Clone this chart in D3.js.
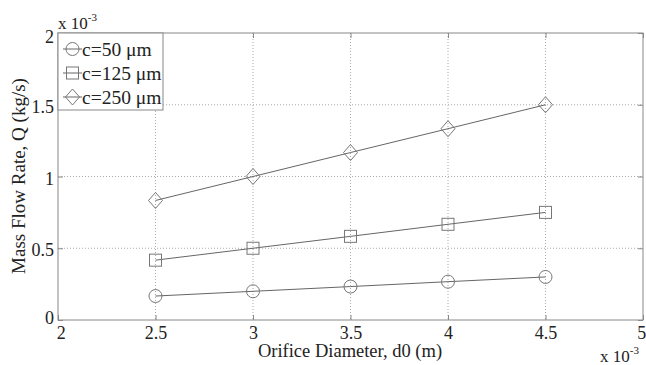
<!DOCTYPE html>
<html>
<head>
<meta charset="utf-8">
<script src="https://cdn.jsdelivr.net/npm/d3@7"></script>
<style>
  body { margin: 0; background: #fff; }
  svg text { font-family: "Liberation Serif", "Times New Roman", serif; fill: #222; }
</style>
</head>
<body>
<div id="chart"></div>
<script>
// orifice diameter (x 1e-3 m)
const diameters = [2.5, 3, 3.5, 4, 4.5];
const seriesNames = ['c=50 \u03bcm', 'c=125 \u03bcm', 'c=250 \u03bcm'];
const seriesShapes = ['circle', 'square', 'diamond'];
// mass flow rate (x 1e-3 kg/s)
const q50 = [0.167, 0.2, 0.233, 0.267, 0.3];
const q125 = [0.417, 0.5, 0.583, 0.667, 0.75];
const q250 = [0.833, 1.0, 1.167, 1.333, 1.5];
const xTicks = [2, 2.5, 3, 3.5, 4, 4.5, 5];
const yTicks = [0, 0.5, 1, 1.5, 2];

const width = 646, height = 365;
const margin = { top: 33, right: 3, bottom: 45, left: 58 };
const w = width - margin.left - margin.right;
const h = height - margin.top - margin.bottom;

const svg = d3.select('#chart').append('svg')
  .attr('width', width)
  .attr('height', height);

const x = d3.scaleLinear().domain([2, 5]).range([0, w]);
const y = d3.scaleLinear().domain([0, 2]).range([h, 0]);

const g = svg.append('g')
  .attr('transform', 'translate(' + margin.left + ',' + margin.top + ')');

// grid
g.append('g').selectAll('line').data(xTicks.slice(1, -1)).enter().append('line')
  .attr('x1', d => x(d)).attr('x2', d => x(d))
  .attr('y1', 0).attr('y2', h)
  .attr('stroke', '#aaa').attr('stroke-width', 1).attr('stroke-dasharray', '1,2');
g.append('g').selectAll('line').data(yTicks.slice(1, -1)).enter().append('line')
  .attr('y1', d => y(d)).attr('y2', d => y(d))
  .attr('x1', 0).attr('x2', w)
  .attr('stroke', '#aaa').attr('stroke-width', 1).attr('stroke-dasharray', '1,2');

// axes (ticks point inwards)
const xAxis = g.append('g')
  .attr('transform', 'translate(0,' + h + ')')
  .call(d3.axisBottom(x).tickValues(xTicks).tickSize(-5).tickSizeOuter(0).tickPadding(6).tickFormat(d3.format('')));
const yAxis = g.append('g')
  .call(d3.axisLeft(y).tickValues(yTicks).tickSize(-5).tickSizeOuter(0).tickPadding(4).tickFormat(d3.format('')));
g.append('g').attr('transform', 'translate(' + w + ',0)')
  .call(d3.axisRight(y).tickValues(yTicks).tickSize(-5).tickSizeOuter(0).tickFormat(''));
g.append('g')
  .call(d3.axisTop(x).tickValues(xTicks).tickSize(-5).tickSizeOuter(0).tickFormat(''));

g.selectAll('.domain').remove();
g.selectAll('.tick line').attr('stroke', '#888');
g.selectAll('.tick text')
  .attr('font-family', '"Liberation Serif", serif')
  .style('font-size', '18px').attr('fill', '#222');
xAxis.selectAll('.tick text').attr('dy', '0.71em');
xAxis.selectAll('.tick text').filter(d => d === 2).attr('dx', '0.15em');
xAxis.selectAll('.tick text').filter(d => d === 5).attr('dx', '-0.1em');
yAxis.selectAll('.tick text').attr('dy', '0.42em');
yAxis.selectAll('.tick text').filter(d => d === 0).attr('dy', '0.2em');
yAxis.selectAll('.tick text').filter(d => d === 2).attr('dy', '0.55em');

// plot box
g.append('rect')
  .attr('width', w).attr('height', h)
  .attr('fill', 'none').attr('stroke', '#888').attr('stroke-width', 1);

// series
const seriesData = [q50, q125, q250];
const line = d3.line().x((d, i) => x(diameters[i])).y(d => y(d));

function drawMarker(sel, shape, cx, cy) {
  if (shape === 'circle') {
    sel.append('circle').attr('cx', cx).attr('cy', cy).attr('r', 6.5)
      .attr('fill', 'none').attr('stroke', '#777');
  } else if (shape === 'square') {
    sel.append('rect').attr('x', cx - 6).attr('y', cy - 6).attr('width', 12).attr('height', 12)
      .attr('fill', 'none').attr('stroke', '#777');
  } else {
    sel.append('path')
      .attr('d', 'M' + cx + ',' + (cy - 8) + 'L' + (cx + 7) + ',' + cy + 'L' + cx + ',' + (cy + 8) + 'L' + (cx - 7) + ',' + cy + 'Z')
      .attr('fill', 'none').attr('stroke', '#777');
  }
}

seriesData.forEach((vals, k) => {
  g.append('path').datum(vals)
    .attr('d', line)
    .attr('fill', 'none').attr('stroke', '#666').attr('stroke-width', 1);
  const mg = g.append('g');
  vals.forEach((v, i) => drawMarker(mg, seriesShapes[k], x(diameters[i]), y(v)));
});

// legend
const lg = g.append('g');
lg.append('rect').attr('x', 0).attr('y', 0).attr('width', 105).attr('height', 77)
  .attr('fill', '#fff').attr('stroke', '#888');
seriesNames.forEach((name, k) => {
  const ly = 16 + k * 24;
  lg.append('line').attr('x1', 5).attr('x2', 24).attr('y1', ly).attr('y2', ly).attr('stroke', '#666');
  drawMarker(lg, seriesShapes[k], 14.5, ly);
  lg.append('text').attr('x', 24).attr('y', ly).attr('dy', '0.35em')
    .style('font-size', '19.5px').text(name);
});

// axis titles
svg.append('text')
  .attr('x', 350).attr('y', 357)
  .attr('text-anchor', 'middle').style('font-size', '18.5px')
  .text('Orifice Diameter, d0 (m)');
svg.append('text')
  .attr('transform', 'translate(25,176) rotate(-90)')
  .attr('text-anchor', 'middle').style('font-size', '19px')
  .text('Mass Flow Rate, Q (kg/s)');

// exponent labels
function expLabel(px, py) {
  const t = svg.append('text').attr('x', px).attr('y', py).style('font-size', '17px');
  t.append('tspan').text('x 10');
  t.append('tspan').attr('dy', -8).style('font-size', '11px').text('-3');
}
expLabel(58, 29);
expLabel(600, 362);
</script>
</body>
</html>
